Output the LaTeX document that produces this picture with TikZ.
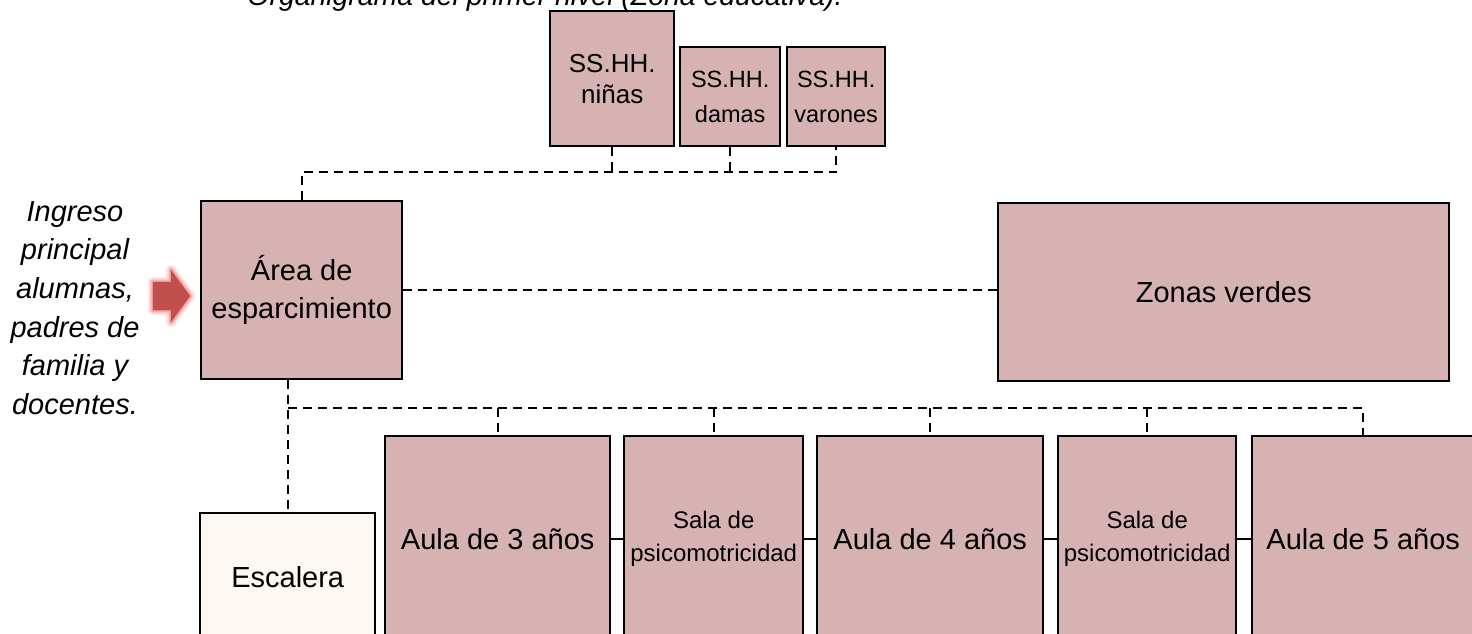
\documentclass[tikz,border=0pt]{standalone}
\usepackage{fontspec}
\setmainfont{Liberation Sans}
\definecolor{boxfill}{HTML}{D7B2B2}
\definecolor{stairfill}{HTML}{FCF7F1}
\definecolor{arrowred}{HTML}{C0504D}
\definecolor{glowred}{HTML}{F07070}
\tikzset{
  box/.style={draw=black, line width=2.4pt, fill=boxfill, inner sep=2pt, align=center,
    anchor=north west, font=\fontsize{29}{38}\selectfont},
  smallbox/.style={box, font=\fontsize{23.5}{35}\selectfont},
  salabox/.style={box, font=\fontsize{24}{33}\selectfont},
  dashconn/.style={draw=black, line width=2.3pt, dash pattern=on 9pt off 6pt},
  solidconn/.style={draw=black, line width=2.3pt},
}
\begin{document}
\begin{tikzpicture}[x=1pt,y=-1pt]
\useasboundingbox (0,0) rectangle (1472,634);
% title (cut at top, as in the reference)
\node[anchor=base, inner sep=0, font=\fontsize{28.4}{34}\selectfont\itshape] (title) at (545,6) {Organigrama del primer nivel (Zona educativa).};
% top boxes
\node[box, minimum width=124pt, minimum height=135pt, font=\fontsize{26}{31}\selectfont] (ninas) at (549,10) {SS.HH.\\niñas};
\node[smallbox, minimum width=100pt, minimum height=99pt] (damas) at (679,46) {SS.HH.\\damas};
\node[smallbox, minimum width=98pt, minimum height=99pt] (varones) at (786,46) {SS.HH.\\varones};
% middle
\node[box, minimum width=201pt, minimum height=178pt] (area) at (200,200) {Área de\\esparcimiento};
\node[box, minimum width=451pt, minimum height=178pt] (zonas) at (997,202) {Zonas verdes};
% bottom
\node[box, fill=stairfill, minimum width=175pt, minimum height=128pt] (esc) at (199,512) {Escalera};
\node[box, minimum width=225pt, minimum height=206pt] (aula3) at (384,435) {Aula de 3 años};
\node[salabox, minimum width=179pt, minimum height=206pt] (sala1) at (623,435) {Sala de\\psicomotricidad};
\node[box, minimum width=226pt, minimum height=206pt] (aula4) at (816,435) {Aula de 4 años};
\node[salabox, minimum width=178pt, minimum height=206pt] (sala2) at (1057,435) {Sala de\\psicomotricidad};
\node[box, minimum width=222pt, minimum height=206pt] (aula5) at (1251,435) {Aula de 5 años};
% left text
\node[align=center, inner sep=0, font=\fontsize{29}{38.6}\selectfont\itshape] (ingreso) at (75,308) {Ingreso\\principal\\alumnas,\\padres de\\familia y\\docentes.};
% entrance arrow with glow
\foreach \w/\o in {11/0.12, 8/0.18, 5/0.3, 2.5/0.5}{
  \draw[glowred, line width=\w pt, line join=round, opacity=\o]
    (153,282) -- (171,282) -- (171,270) -- (190,296) -- (171,322) -- (171,310) -- (153,310) -- cycle;
}
\fill[arrowred] (153,282) -- (171,282) -- (171,270) -- (190,296) -- (171,322) -- (171,310) -- (153,310) -- cycle;
% bus coordinates
\coordinate (bus1) at (0,172);
\coordinate (bus2) at (0,408);
% top connectors
\draw[dashconn] (area.north) -- (area.north |- bus1) -- (varones.south |- bus1) -- (varones.south);
\draw[dashconn] (ninas.south) -- (ninas.south |- bus1);
\draw[dashconn] (damas.south) -- (damas.south |- bus1);
% area to zonas
\draw[dashconn] (area.east) -- (zonas.west |- area.east);
% bottom connectors
\draw[dashconn] (esc.north |- area.south) -- (esc.north);
\draw[dashconn] (esc.north |- bus2) -- (aula5.north |- bus2) -- (aula5.north);
\foreach \n in {aula3, sala1, aula4, sala2}{
  \draw[dashconn] (\n.north |- bus2) -- (\n.north);
}
\draw[solidconn] (aula3.east) -- (sala1.west);
\draw[solidconn] (sala1.east) -- (aula4.west);
\draw[solidconn] (aula4.east) -- (sala2.west);
\draw[solidconn] (sala2.east) -- (aula5.west);
\end{tikzpicture}
\end{document}
